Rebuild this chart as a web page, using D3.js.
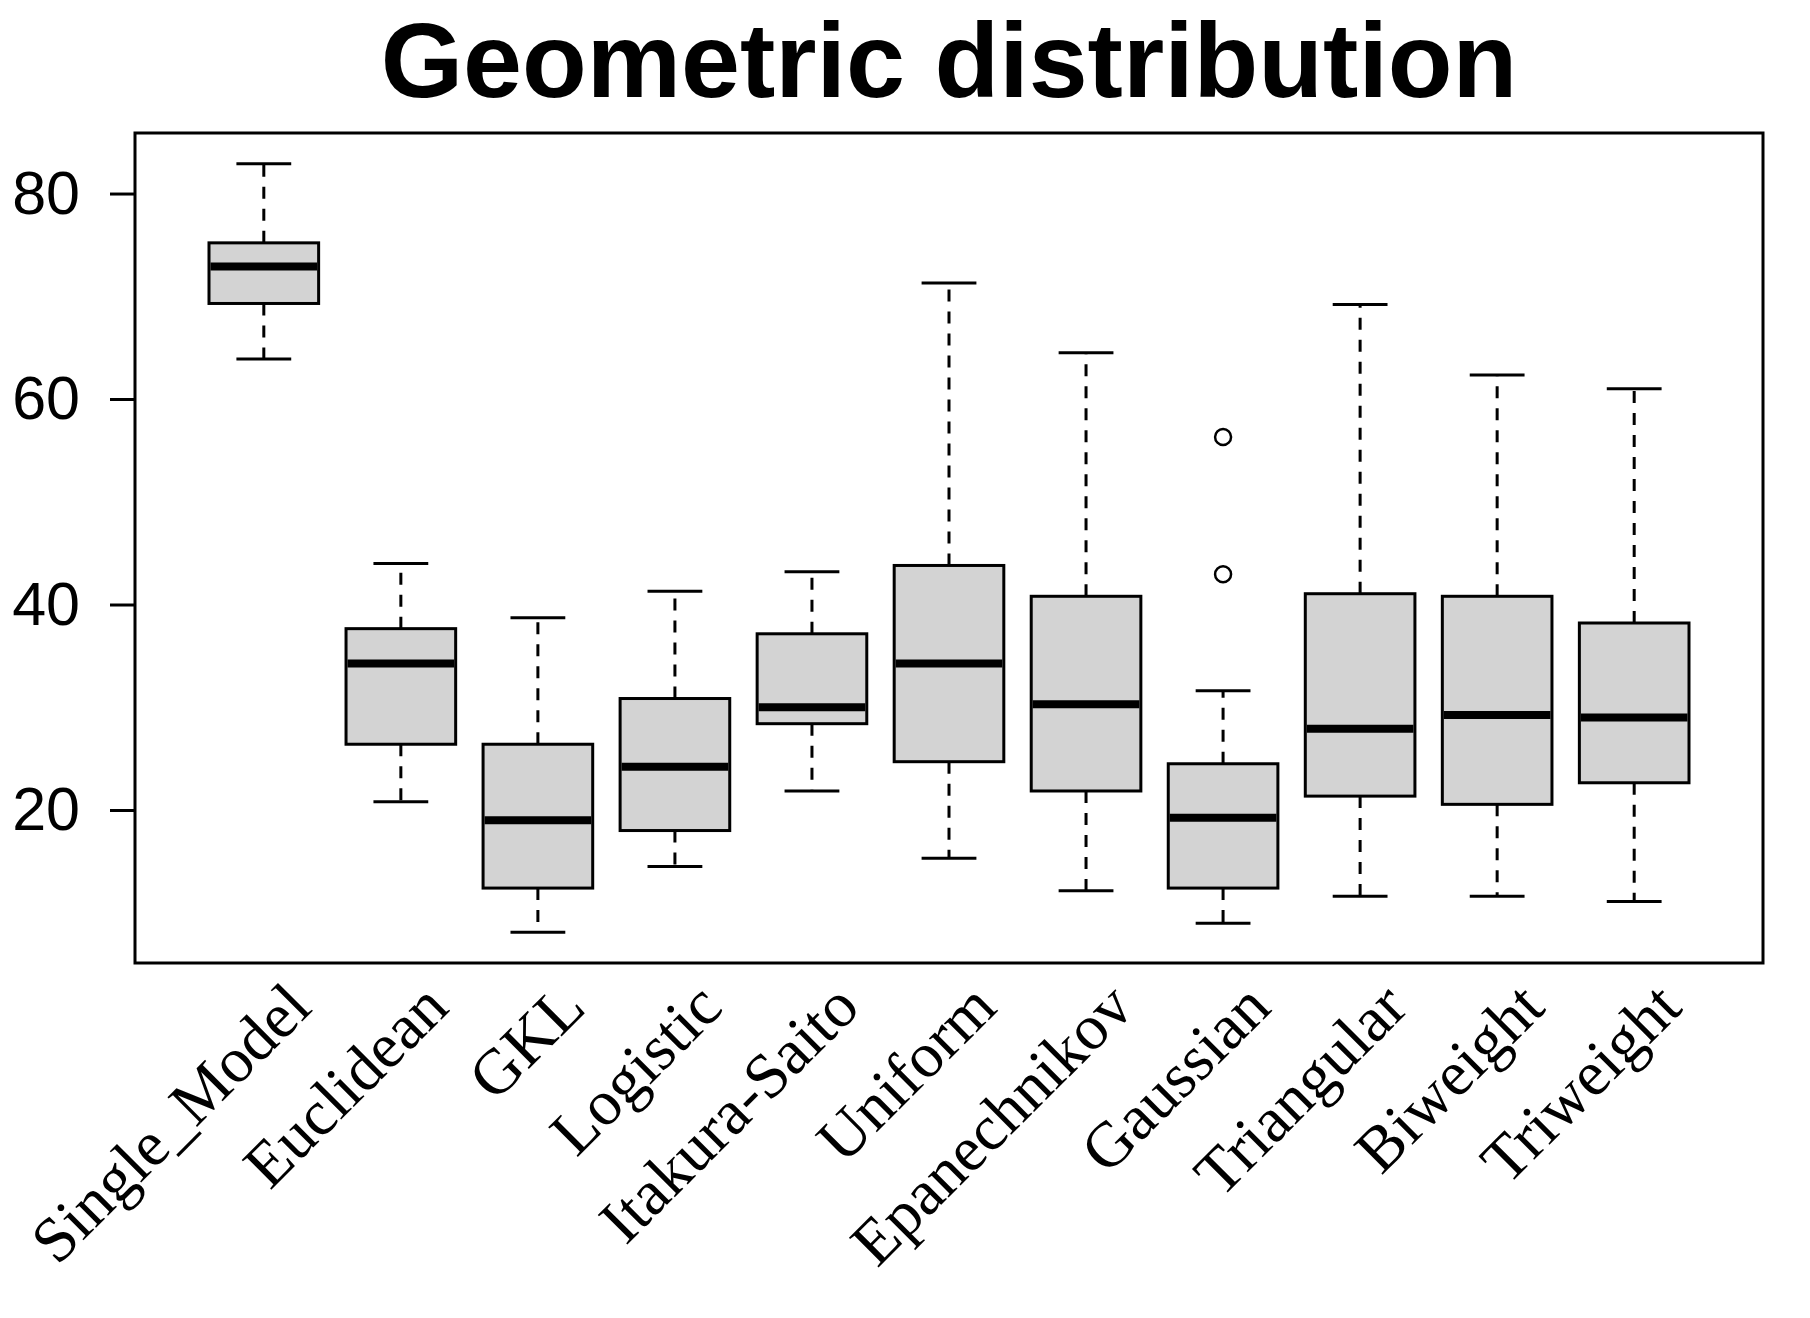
<!DOCTYPE html>
<html>
<head>
    <meta charset="utf-8">
    <title>Geometric distribution</title>
    <script src="https://d3js.org/d3.v7.min.js"></script>
    <style>
        body { margin: 0; background: #fff; }
    </style>
</head>
<body>
<svg width="1810" height="1318"></svg>
<script>
    const width = 1810;
    const height = 1318;

    // values
    const categories = ["Single_Model", "Euclidean", "GKL", "Logistic", "Itakura-Saito", "Uniform",
        "Epanechnikov", "Gaussian", "Triangular", "Biweight", "Triweight"];
    const lowerWhisker = [63.9, 20.8, 8.1, 14.5, 21.85, 15.3, 12.15, 8.97, 11.6, 11.6, 11.1];
    const q1 = [69.3, 26.4, 12.4, 18.0, 28.4, 24.7, 21.85, 12.4, 21.35, 20.55, 22.65];
    const medians = [72.9, 34.25, 19.0, 24.2, 30.0, 34.25, 30.3, 19.25, 27.9, 29.25, 29.0];
    const q3 = [75.2, 37.65, 26.4, 30.85, 37.15, 43.8, 40.8, 24.5, 41.05, 40.8, 38.2];
    const upperWhisker = [82.9, 44.0, 38.7, 41.3, 43.2, 71.3, 64.5, 31.6, 69.2, 62.35, 61.0];
    const outlierCategory = ["Gaussian", "Gaussian"];
    const outlierValues = [56.3, 42.95];
    const yTicks = [20, 40, 60, 80];

    const plot = { left: 135, right: 1763, top: 133, bottom: 963 };

    const boxes = categories.map((c, i) => ({
        name: c, lo: lowerWhisker[i], q1: q1[i], med: medians[i], q3: q3[i], hi: upperWhisker[i]
    }));
    const outliers = outlierValues.map((v, i) => ({ name: outlierCategory[i], value: v }));

    // R style 4% range extension
    const allVals = lowerWhisker.concat(upperWhisker, outlierValues);
    const vMin = d3.min(allVals), vMax = d3.max(allVals);
    const pad = (vMax - vMin) * 0.04;

    const x = d3.scalePoint()
        .domain(categories)
        .range([plot.left, plot.right])
        .padding(0.94);
    const y = d3.scaleLinear()
        .domain([vMin - pad, vMax + pad])
        .range([plot.bottom, plot.top]);

    const boxW = x.step() * 0.8;
    const capW = boxW / 2;

    const svg = d3.select("svg");

    svg.append("text")
        .attr("x", (plot.left + plot.right) / 2)
        .attr("y", 97)
        .attr("text-anchor", "middle")
        .attr("font-family", "Liberation Sans, Arial, sans-serif")
        .attr("font-weight", "bold")
        .attr("font-size", 106)
        .text("Geometric distribution");

    const g = svg.append("g");
    const box = g.selectAll("g.box")
        .data(boxes)
        .join("g")
        .attr("class", "box");

    // dashed whiskers
    box.append("line")
        .attr("x1", d => x(d.name)).attr("x2", d => x(d.name))
        .attr("y1", d => y(d.q3)).attr("y2", d => y(d.hi))
        .attr("stroke", "#000").attr("stroke-width", 3)
        .attr("stroke-dasharray", "12,10");
    box.append("line")
        .attr("x1", d => x(d.name)).attr("x2", d => x(d.name))
        .attr("y1", d => y(d.q1)).attr("y2", d => y(d.lo))
        .attr("stroke", "#000").attr("stroke-width", 3)
        .attr("stroke-dasharray", "12,10");

    // caps
    box.append("line")
        .attr("x1", d => x(d.name) - capW / 2).attr("x2", d => x(d.name) + capW / 2)
        .attr("y1", d => y(d.hi)).attr("y2", d => y(d.hi))
        .attr("stroke", "#000").attr("stroke-width", 3);
    box.append("line")
        .attr("x1", d => x(d.name) - capW / 2).attr("x2", d => x(d.name) + capW / 2)
        .attr("y1", d => y(d.lo)).attr("y2", d => y(d.lo))
        .attr("stroke", "#000").attr("stroke-width", 3);

    box.append("rect")
        .attr("x", d => x(d.name) - boxW / 2)
        .attr("width", boxW)
        .attr("y", d => y(d.q3))
        .attr("height", d => y(d.q1) - y(d.q3))
        .attr("fill", "#d3d3d3")
        .attr("stroke", "#000")
        .attr("stroke-width", 3);

    box.append("line")
        .attr("x1", d => x(d.name) - boxW / 2 + 1.5).attr("x2", d => x(d.name) + boxW / 2 - 1.5)
        .attr("y1", d => y(d.med)).attr("y2", d => y(d.med))
        .attr("stroke", "#000").attr("stroke-width", 8);

    g.selectAll("circle.out")
        .data(outliers)
        .join("circle")
        .attr("class", "out")
        .attr("cx", d => x(d.name))
        .attr("cy", d => y(d.value))
        .attr("r", 8)
        .attr("fill", "none")
        .attr("stroke", "#000")
        .attr("stroke-width", 2.5);

    // frame
    svg.append("rect")
        .attr("x", plot.left).attr("y", plot.top)
        .attr("width", plot.right - plot.left)
        .attr("height", plot.bottom - plot.top)
        .attr("fill", "none")
        .attr("stroke", "#000")
        .attr("stroke-width", 3);

    const yAxis = svg.append("g")
        .attr("transform", `translate(${plot.left},0)`)
        .call(d3.axisLeft(y).tickValues(yTicks).tickSize(25).tickPadding(30));
    yAxis.select(".domain").remove();
    yAxis.selectAll(".tick line").attr("stroke-width", 3);
    yAxis.selectAll(".tick text")
        .attr("font-family", "Liberation Sans, Arial, sans-serif")
        .attr("font-size", 61)
        .attr("fill", "#000");

    // rotated category labels
    svg.append("g").selectAll("text")
        .data(categories)
        .join("text")
        .attr("transform", d => `translate(${x(d) + 50},1010) rotate(-45)`)
        .attr("text-anchor", "end")
        .attr("font-family", "Liberation Serif, Times New Roman, serif")
        .attr("font-size", 64)
        .text(d => d);
</script>
</body>
</html>
